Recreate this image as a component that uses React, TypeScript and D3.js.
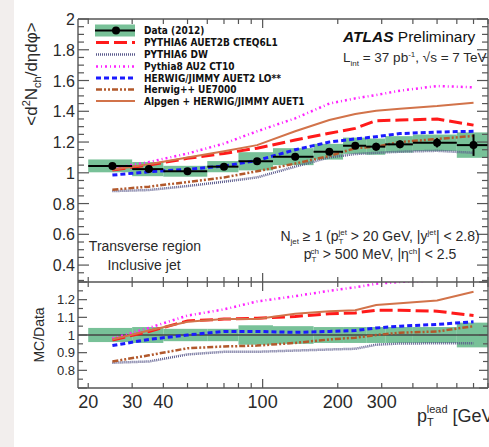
import * as d3 from "d3";

// bins in leading-jet pT [GeV]
const binEdges = [20, 30, 40, 60, 80, 110, 160, 210, 260, 310, 400, 600, 800];
const binCenters = [25, 35, 50, 70, 95, 135, 185, 235, 285, 355, 500, 700];

// data (2012)
const dataValues = [1.045, 1.024, 1.01, 1.04, 1.075, 1.105, 1.137, 1.176, 1.17, 1.185, 1.195, 1.18];
const dataStat = [0.005, 0.005, 0.006, 0.007, 0.01, 0.012, 0.015, 0.02, 0.025, 0.025, 0.03, 0.07];
const dataSystRel = [0.04, 0.045, 0.035, 0.035, 0.055, 0.05, 0.045, 0.045, 0.045, 0.045, 0.045, 0.07];

// MC predictions, main panel
const pythia6Auet2b = [1.018, 1.05, 1.094, 1.126, 1.16, 1.213, 1.257, 1.289, 1.339, 1.343, 1.35, 1.31];
const pythia6Dw = [0.881, 0.888, 0.914, 0.942, 0.97, 1.04, 1.1, 1.122, 1.13, 1.137, 1.143, 1.13];
const pythia8Au2 = [1.03, 1.07, 1.125, 1.19, 1.27, 1.354, 1.45, 1.484, 1.506, 1.534, 1.564, 1.556];
const herwigJimmy = [0.985, 1.007, 1.022, 1.044, 1.08, 1.15, 1.2, 1.22, 1.235, 1.255, 1.265, 1.27];
const herwigPP = [0.89, 0.91, 0.94, 0.97, 1.01, 1.06, 1.11, 1.16, 1.17, 1.2, 1.22, 1.24];
const alpgenHerwig = [1.02, 1.055, 1.1, 1.14, 1.18, 1.27, 1.343, 1.382, 1.404, 1.417, 1.434, 1.456];

// MC / Data ratios
const ratioPythia6Auet2b = [0.972, 1.02, 1.08, 1.09, 1.095, 1.105, 1.12, 1.125, 1.14, 1.14, 1.135, 1.11];
const ratioPythia6Dw = [0.843, 0.85, 0.89, 0.905, 0.905, 0.912, 0.918, 0.922, 0.945, 0.952, 0.953, 0.953];
const ratioPythia8Au2 = [0.98, 1.04, 1.11, 1.145, 1.19, 1.22, 1.25, 1.27, 1.29, 1.3, 1.31, 1.32];
const ratioHerwigJimmy = [0.94, 0.975, 1.0, 1.02, 1.02, 1.015, 1.02, 1.025, 1.04, 1.05, 1.06, 1.075];
const ratioHerwigPP = [0.85, 0.885, 0.925, 0.935, 0.94, 0.955, 0.975, 0.985, 1.0, 1.013, 1.02, 1.05];
const ratioAlpgenHerwig = [0.975, 1.025, 1.075, 1.09, 1.09, 1.12, 1.135, 1.14, 1.17, 1.18, 1.195, 1.245];

// axis ticks
const yTopLabels = ["0.4", "0.6", "0.8", "1", "1.2", "1.4", "1.6", "1.8", "2"];
const yBotLabels = ["0.8", "0.9", "1", "1.1", "1.2"];
const xTickValues = [20, 30, 40, 50, 60, 70, 80, 90, 100, 200, 300, 400, 500, 600, 700, 800];
const xTickLabels = ["20", "30", "40", "100", "200", "300"];

const models = [
  { name: "PYTHIA6 AUET2B CTEQ6L1", values: pythia6Auet2b, ratio: ratioPythia6Auet2b, color: "#ff1a1a", dash: "13,5", width: 3 },
  { name: "PYTHIA6 DW", values: pythia6Dw, ratio: ratioPythia6Dw, color: "#5a5a8c", dash: "1,1", width: 2.5 },
  { name: "Pythia8 AU2 CT10", values: pythia8Au2, ratio: ratioPythia8Au2, color: "#ff22ff", dash: "2,3,1,3", width: 2.5 },
  { name: "HERWIG/JIMMY AUET2 LO**", values: herwigJimmy, ratio: ratioHerwigJimmy, color: "#1a1aff", dash: "5,3", width: 3 },
  { name: "Herwig++ UE7000", values: herwigPP, ratio: ratioHerwigPP, color: "#b2592c", dash: "6,2,2,2,2,2", width: 2.5 },
  { name: "Alpgen + HERWIG/JIMMY AUET1", values: alpgenHerwig, ratio: ratioAlpgenHerwig, color: "#d2734a", dash: "", width: 2 },
];

const L = 78;
const R = 488;
const TOP = 19;
const MID = 282;
const BOT = 388;
const axisColor = "#555";
const textColor = "#2a2a2a";
const font = "'Liberation Sans', Arial, sans-serif";
const bandColor = "#78c198";

export default function App() {
  const x = d3.scaleLog().domain([18.2, 800]).range([L, R]);
  const yTop = d3.scaleLinear().domain([0.29, 2]).range([MID, TOP]);
  const yBot = d3.scaleLinear().domain([0.7, 1.3]).range([BOT, MID]);

  const topMinor = d3.range(0.3, 2.001, 0.05);
  const botMinor = d3.range(0.7, 1.301, 0.05);

  const lineTop = (vals: number[]) =>
    d3.line<number>().x((_, i) => x(binCenters[i])).y((d) => yTop(d))(vals) || "";
  const lineBot = (vals: number[]) =>
    d3.line<number>().x((_, i) => x(binCenters[i])).y((d) => yBot(d))(vals) || "";

  const legendRows = [30.5, 42.5, 54.5, 66.5, 78, 89.5, 101];

  return (
    <svg
      width={489}
      height={447}
      style={{ position: "absolute", left: 0, top: 0, background: "#fff" }}
      fontFamily={font}
    >
      <defs>
        <clipPath id="clipTop">
          <rect x={L} y={TOP} width={R - L} height={MID - TOP} />
        </clipPath>
        <clipPath id="clipBot">
          <rect x={L} y={MID} width={R - L} height={BOT - MID} />
        </clipPath>
      </defs>
      <rect x={0} y={0} width={14} height={447} fill="#f2eeed" />

      {/* upper panel */}
      <g clipPath="url(#clipTop)">
        {dataValues.map((v, i) => {
          const h = v * dataSystRel[i];
          return (
            <rect
              key={"b" + i}
              x={x(binEdges[i])}
              width={x(binEdges[i + 1]) - x(binEdges[i])}
              y={yTop(v + h)}
              height={yTop(v - h) - yTop(v + h)}
              fill={bandColor}
            />
          );
        })}
        {models.map((m) => (
          <path
            key={m.name}
            d={lineTop(m.values)}
            fill="none"
            stroke={m.color}
            strokeWidth={m.width}
            strokeDasharray={m.dash || undefined}
          />
        ))}
        {dataValues.map((v, i) => (
          <g key={"d" + i}>
            <line x1={x(binEdges[i])} x2={x(binEdges[i + 1])} y1={yTop(v)} y2={yTop(v)} stroke="#000" strokeWidth={2} />
            <line x1={x(binCenters[i])} x2={x(binCenters[i])} y1={yTop(v + dataStat[i])} y2={yTop(v - dataStat[i])} stroke="#000" strokeWidth={2} />
            <circle cx={x(binCenters[i])} cy={yTop(v)} r={4} fill="#000" />
          </g>
        ))}
      </g>

      {/* lower panel */}
      <g clipPath="url(#clipBot)">
        {dataSystRel.map((e, i) => (
          <rect
            key={"rb" + i}
            x={x(binEdges[i])}
            width={x(binEdges[i + 1]) - x(binEdges[i])}
            y={yBot(1 + e)}
            height={yBot(1 - e) - yBot(1 + e)}
            fill={bandColor}
          />
        ))}
        <line x1={L} x2={R} y1={yBot(1)} y2={yBot(1)} stroke="#444" strokeWidth={1.5} />
        {models.map((m) => (
          <path
            key={"r" + m.name}
            d={lineBot(m.ratio)}
            fill="none"
            stroke={m.color}
            strokeWidth={m.width}
            strokeDasharray={m.dash || undefined}
          />
        ))}
      </g>

      {/* frames */}
      <g stroke={axisColor} strokeWidth={1.4} fill="none">
        <line x1={L} x2={L} y1={TOP} y2={BOT} />
        <line x1={R} x2={R} y1={TOP} y2={BOT} />
        <line x1={L} x2={R} y1={TOP} y2={TOP} />
        <line x1={L} x2={R} y1={MID} y2={MID} />
        <line x1={L} x2={R} y1={BOT} y2={BOT} />
      </g>

      {/* ticks */}
      <g stroke={axisColor} strokeWidth={1.2}>
        {topMinor.map((v, i) => {
          const major = Math.abs(v * 5 - Math.round(v * 5)) < 1e-6;
          const len = major ? 11 : 6;
          return (
            <g key={"ty" + i}>
              <line x1={L} x2={L + len} y1={yTop(v)} y2={yTop(v)} />
              <line x1={R} x2={R - len} y1={yTop(v)} y2={yTop(v)} />
            </g>
          );
        })}
        {botMinor.map((v, i) => {
          const major = Math.abs(v * 10 - Math.round(v * 10)) < 1e-6;
          const len = major ? 9 : 5;
          return (
            <g key={"by" + i}>
              <line x1={L} x2={L + len} y1={yBot(v)} y2={yBot(v)} />
              <line x1={R} x2={R - len} y1={yBot(v)} y2={yBot(v)} />
            </g>
          );
        })}
        {xTickValues.map((v) => {
          const len = v === 100 ? 9 : 5;
          return (
            <g key={"tx" + v}>
              <line x1={x(v)} x2={x(v)} y1={TOP} y2={TOP + len} />
              <line x1={x(v)} x2={x(v)} y1={MID} y2={MID - len} />
              <line x1={x(v)} x2={x(v)} y1={MID} y2={MID + len} />
              <line x1={x(v)} x2={x(v)} y1={BOT} y2={BOT - len} />
            </g>
          );
        })}
      </g>

      {/* tick labels */}
      <g fill={textColor} fontSize={16} textAnchor="end">
        {yTopLabels.map((t) => (
          <text key={"yl" + t} x={75} y={yTop(+t) + 6}>
            {t}
          </text>
        ))}
      </g>
      <g fill={textColor} fontSize={13} textAnchor="end">
        {yBotLabels.map((t) => (
          <text key={"ybl" + t} x={75} y={yBot(+t) + 4.5}>
            {t}
          </text>
        ))}
      </g>
      <g fill={textColor} fontSize={18} textAnchor="middle">
        {xTickLabels.map((t) => (
          <text key={"xl" + t} x={x(+t)} y={408}>
            {t}
          </text>
        ))}
      </g>

      {/* axis titles */}
      <text transform="translate(37,74) rotate(-90)" textAnchor="middle" fontSize={17} fill={textColor}>
        {"<d"}
        <tspan fontSize={11} dy={-7}>2</tspan>
        <tspan dy={7}>N</tspan>
        <tspan fontSize={11} dy={4}>ch</tspan>
        <tspan dy={-4}>{"/dηdφ>"}</tspan>
      </text>
      <text transform="translate(44,335) rotate(-90)" textAnchor="middle" fontSize={14} fill={textColor}>
        MC/Data
      </text>
      <text x={417} y={422} fontSize={18} fill={textColor}>
        p
        <tspan fontSize={11} dy={4}>T</tspan>
        <tspan fontSize={11} dx={-7} dy={-13}>lead</tspan>
        <tspan dy={9}> [GeV]</tspan>
      </text>

      {/* legend */}
      <g>
        <rect x={95} y={legendRows[0] - 6} width={40} height={12} fill={bandColor} />
        <line x1={95} x2={135} y1={legendRows[0]} y2={legendRows[0]} stroke="#000" strokeWidth={2} />
        <circle cx={116} cy={legendRows[0]} r={4} fill="#000" />
        {models.map((m, i) => (
          <line
            key={"lg" + m.name}
            x1={96}
            x2={135}
            y1={legendRows[i + 1]}
            y2={legendRows[i + 1]}
            stroke={m.color}
            strokeWidth={m.width}
            strokeDasharray={m.dash || undefined}
          />
        ))}
        <g fontSize={10} fontWeight="bold" fill="#111" fontFamily="'Liberation Sans Narrow', 'DejaVu Sans Condensed', sans-serif">
          <text x={144} y={legendRows[0] + 3.5}>Data (2012)</text>
          {models.map((m, i) => (
            <text key={"lt" + m.name} x={144} y={legendRows[i + 1] + 3.5}>
              {m.name}
            </text>
          ))}
        </g>
      </g>

      {/* labels */}
      <text x={343} y={42} fontSize={15.5} fill="#111">
        <tspan fontWeight="bold" fontStyle="italic">ATLAS</tspan> Preliminary
      </text>
      <text x={343} y={62} fontSize={13.5} fill={textColor}>
        L<tspan fontSize={8} dy={4}>int</tspan>
        <tspan dy={-4}> = 37 pb</tspan>
        <tspan fontSize={8} dy={-5}>-1</tspan>
        <tspan dy={5}>, √s = 7 TeV</tspan>
      </text>
      <g fontSize={14} fill={textColor} textAnchor="middle">
        <text x={145} y={251}>Transverse region</text>
        <text x={144} y={270}>Inclusive jet</text>
      </g>
      <text x={380} y={241} fontSize={14} fill={textColor} textAnchor="middle">
        N<tspan fontSize={8} dy={3}>jet</tspan>
        <tspan dy={-3}> ≥ 1 (p</tspan>
        <tspan fontSize={8} dy={3}>T</tspan>
        <tspan fontSize={8} dx={-5} dy={-9}>jet</tspan>
        <tspan dy={6}> &gt; 20 GeV, |y</tspan>
        <tspan fontSize={8} dy={-6}>jet</tspan>
        <tspan dy={6}>| &lt; 2.8)</tspan>
      </text>
      <text x={380} y={259} fontSize={14} fill={textColor} textAnchor="middle">
        p<tspan fontSize={8} dy={3}>T</tspan>
        <tspan fontSize={8} dx={-5} dy={-8}>ch</tspan>
        <tspan dy={5}> &gt; 500 MeV, |η</tspan>
        <tspan fontSize={8} dy={-5}>ch</tspan>
        <tspan dy={5}>| &lt; 2.5</tspan>
      </text>
    </svg>
  );
}
